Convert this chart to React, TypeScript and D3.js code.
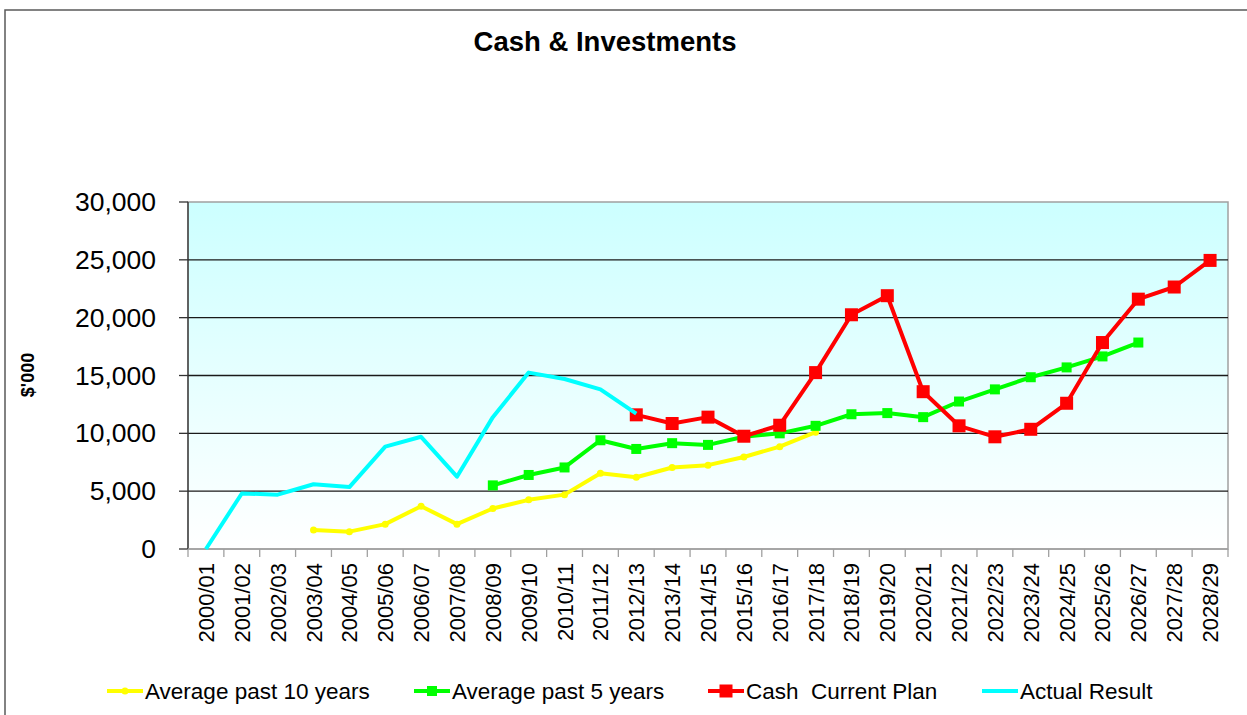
import React from 'react';
import * as d3 from 'd3';

const years = [
  '2000/01', '2001/02', '2002/03', '2003/04', '2004/05', '2005/06', '2006/07', '2007/08',
  '2008/09', '2009/10', '2010/11', '2011/12', '2012/13', '2013/14', '2014/15', '2015/16',
  '2016/17', '2017/18', '2018/19', '2019/20', '2020/21', '2021/22', '2022/23', '2023/24',
  '2024/25', '2025/26', '2026/27', '2027/28', '2028/29',
];

const avg10 = [
  null, null, null, 1650, 1500, 2150, 3700, 2150,
  3500, 4250, 4700, 6550, 6200, 7050, 7250, 7950,
  8850, 10100, null, null, null, null, null, null,
  null, null, null, null, null,
];

const avg5 = [
  null, null, null, null, null, null, null, null,
  5500, 6400, 7050, 9400, 8650, 9150, 9000, 9700,
  10000, 10650, 11650, 11750, 11400, 12750, 13800, 14850,
  15700, 16650, 17850, null, null,
];

const cashPlan = [
  null, null, null, null, null, null, null, null,
  null, null, null, null, 11600, 10850, 11400, 9750,
  10700, 15250, 20250, 21900, 13600, 10650, 9700, 10350,
  12600, 17850, 21600, 22650, 24950,
];

const actual = [
  0, 4800, 4700, 5600, 5350, 8850, 9700, 6250,
  11400, 15250, 14700, 13800, 11700, null, null, null,
  null, null, null, null, null, null, null, null,
  null, null, null, null, null,
];

const yTicks = [0, 5000, 10000, 15000, 20000, 25000, 30000];

const series = [
  { name: 'Average past 10 years', values: avg10, color: '#ffff00', marker: 'circle', size: 7, legendX: 107 },
  { name: 'Average past 5 years', values: avg5, color: '#00ff00', marker: 'square', size: 10, legendX: 414 },
  { name: 'Cash  Current Plan', values: cashPlan, color: '#ff0000', marker: 'square', size: 13, legendX: 708 },
  { name: 'Actual Result', values: actual, color: '#00ffff', marker: 'none', size: 0, legendX: 982 },
];

const FONT = '"Liberation Sans", Arial, sans-serif';

export default function App() {
  const left = 188, right = 1228, top = 202, bottom = 549;

  const x = d3.scaleBand<string>().domain(years).range([left, right]);
  const y = d3.scaleLinear().domain([0, 30000]).range([bottom, top]);
  const cx = (d: string) => (x(d) as number) + x.bandwidth() / 2;
  const fmt = d3.format(',');

  const line = d3.line<[string, number | null]>()
    .defined(d => d[1] !== null)
    .x(d => cx(d[0]))
    .y(d => y(d[1] as number));

  const marker = (s: any, px: number, py: number, key: string) => {
    if (s.marker === 'circle') {
      return <circle key={key} cx={px} cy={py} r={s.size / 2} fill={s.color} />;
    }
    if (s.marker === 'square') {
      return <rect key={key} x={px - s.size / 2} y={py - s.size / 2} width={s.size} height={s.size} fill={s.color} />;
    }
    return null;
  };

  return (
    <svg width={1247} height={715} style={{ position: 'absolute', left: 0, top: 0, fontFamily: FONT }}>
      <defs>
        <linearGradient id="plotbg" x1="0" y1="0" x2="0" y2="1">
          <stop offset="0%" stopColor="#ccffff" />
          <stop offset="100%" stopColor="#ffffff" />
        </linearGradient>
      </defs>
      <rect x={0} y={0} width={1247} height={715} fill="#fff" />
      {/* outer chart border */}
      <rect x={5} y={10} width={1250} height={720} fill="none" stroke="#5a5a5a" strokeWidth={1.5} />

      <text x={605} y={51} textAnchor="middle" fontSize={27.5} fontWeight="bold">Cash &amp; Investments</text>

      {/* plot area */}
      <rect x={left} y={top} width={right - left} height={bottom - top} fill="url(#plotbg)" stroke="#a0a0a0" strokeWidth={1.5} />

      {yTicks.filter(t => t > 0 && t < 30000).map(t => (
        <line key={t} x1={left} x2={right} y1={y(t)} y2={y(t)} stroke="#1a1a1a" strokeWidth={1.3} />
      ))}

      {/* y axis */}
      <line x1={left} x2={left} y1={top} y2={bottom} stroke="#333" strokeWidth={1.3} />
      {yTicks.map(t => (
        <g key={t}>
          <line x1={left - 9} x2={left} y1={y(t)} y2={y(t)} stroke="#333" strokeWidth={1.3} />
          <text x={156} y={y(t) + 9} textAnchor="end" fontSize={26.5}>{fmt(t)}</text>
        </g>
      ))}
      <text transform="translate(34,375) rotate(-90)" textAnchor="middle" fontSize={18} fontWeight="bold">$'000</text>

      {/* x axis */}
      <line x1={left} x2={right} y1={bottom} y2={bottom} stroke="#a0a0a0" strokeWidth={1.5} />
      {years.map((d, i) => (
        <line key={'t' + d} x1={left + i * x.bandwidth()} x2={left + i * x.bandwidth()} y1={bottom} y2={bottom + 8} stroke="#a0a0a0" strokeWidth={1.3} />
      ))}
      <line x1={right} x2={right} y1={bottom} y2={bottom + 8} stroke="#a0a0a0" strokeWidth={1.3} />
      {years.map(d => (
        <text key={d} transform={`translate(${cx(d) + 8},563) rotate(-90)`} textAnchor="end" fontSize={22}>{d}</text>
      ))}

      {/* series */}
      {series.map(s => (
        <g key={s.name}>
          <path d={line(years.map((d, i) => [d, s.values[i]]) as any) || ''} fill="none" stroke={s.color} strokeWidth={4} strokeLinejoin="round" />
          {years.map((d, i) => s.values[i] === null ? null : marker(s, cx(d), y(s.values[i] as number), d))}
        </g>
      ))}

      {/* legend */}
      {series.map(s => (
        <g key={'lg' + s.name}>
          <line x1={s.legendX} x2={s.legendX + 36} y1={691} y2={691} stroke={s.color} strokeWidth={4} />
          {marker(s, s.legendX + 18, 691, 'm')}
          <text x={s.legendX + 38} y={699} fontSize={22.5} style={{ whiteSpace: 'pre' }}>{s.name}</text>
        </g>
      ))}
    </svg>
  );
}
